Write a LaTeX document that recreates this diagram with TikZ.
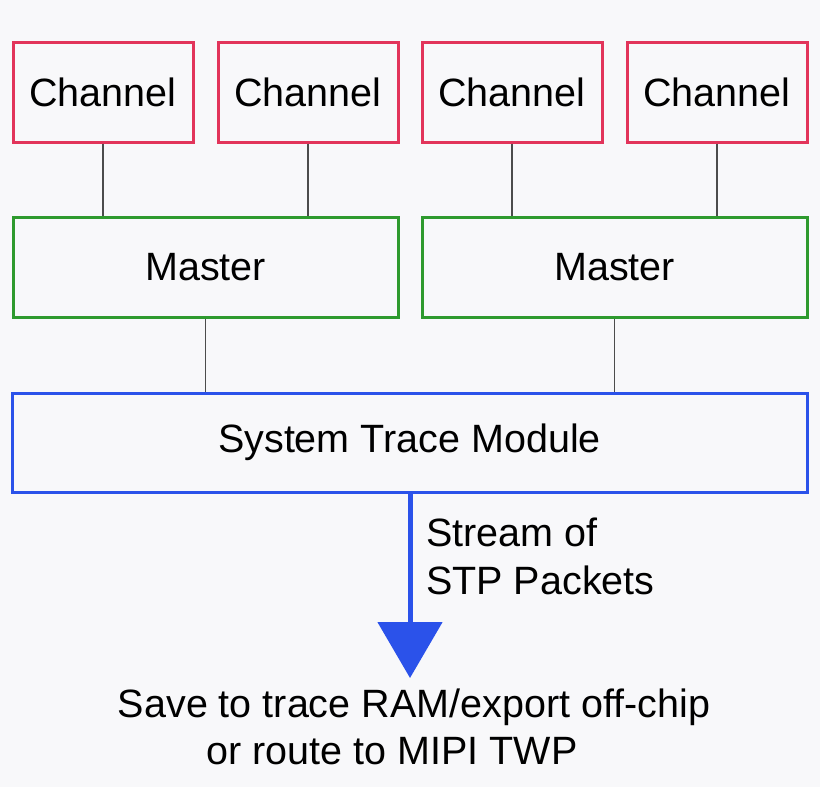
\documentclass[tikz,border=0pt]{standalone}
\usepackage{fontspec}
\setmainfont{Liberation Sans}
\usetikzlibrary{arrows.meta}
\definecolor{bg}{HTML}{F8F8FA}
\definecolor{cred}{HTML}{E2345A}
\definecolor{cgreen}{HTML}{2E9A2E}
\definecolor{cblue}{HTML}{2B52EA}
\begin{document}
\begin{tikzpicture}[x=1pt,y=-1pt,
  box/.style={draw,line width=3pt,inner sep=0pt,font=\fontsize{39.5}{44}\selectfont},
  ch/.style={box,draw=cred,minimum width=180pt,minimum height=100pt},
  ms/.style={box,draw=cgreen,minimum width=385pt,minimum height=100pt},
  conn/.style={draw=black!70,line width=1.5pt},
  txt/.style={font=\fontsize{39.5}{48}\selectfont,inner sep=0pt}]
\fill[bg] (0,0) rectangle (820,787);
\useasboundingbox (0,0) rectangle (820,787);
\node[ch] (c1) at (103,92) {Channel};
\node[ch] (c2) at (308,92) {Channel};
\node[ch] (c3) at (512,92) {Channel};
\node[ch] (c4) at (717,92) {Channel};
\node[ms] (m1) at (205.5,267) {Master};
\node[ms] (m2) at (614.5,267) {Master};
\node[box,draw=cblue,minimum width=795pt,minimum height=99pt] (stm) at (409.5,442.5) {System Trace Module};
\draw[conn] (c1.south) -- (c1.south |- m1.north);
\draw[conn] (c2.south) -- (c2.south |- m1.north);
\draw[conn] (c3.south) -- (c3.south |- m2.north);
\draw[conn] (c4.south) -- (c4.south |- m2.north);
\draw[conn] (m1.south) -- (m1.south |- stm.north);
\draw[conn] (m2.south) -- (m2.south |- stm.north);
\coordinate (tip) at (410,678);
\draw[cblue,line width=5pt,-{Triangle[width=64pt,length=56pt]}] (410,492) -- (tip);
\node[txt,align=left,anchor=north west] (lab) at (426,518) {Stream of\\STP Packets};
\node[txt,anchor=north] (out1) at (414,689) {Save to trace RAM/export off-chip};
\node[txt,anchor=north] (out2) at (392,737) {or route to MIPI TWP};
\end{tikzpicture}
\end{document}
